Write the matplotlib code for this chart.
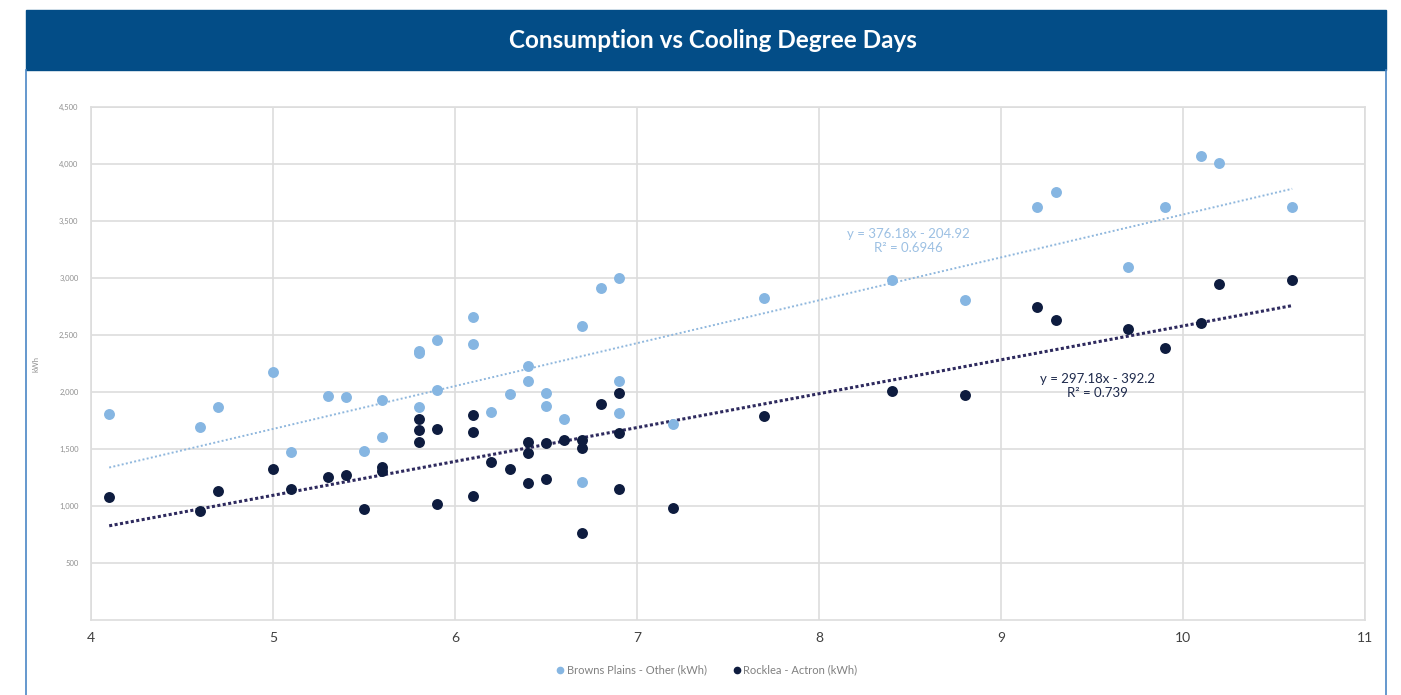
import matplotlib.pyplot as plt
from matplotlib.lines import Line2D
from matplotlib.patches import Rectangle
from matplotlib.ticker import FuncFormatter

# data
browns_x = [4.1, 4.6, 4.7, 5.0, 5.1, 5.3, 5.4, 5.5, 5.6, 5.6, 5.8, 5.8, 5.8, 5.9, 5.9,
            6.1, 6.1, 6.2, 6.3, 6.4, 6.4, 6.5, 6.5, 6.6, 6.7, 6.7, 6.8, 6.9, 6.9, 6.9,
            7.2, 7.7, 8.4, 8.8, 9.2, 9.3, 9.7, 9.9, 10.1, 10.2, 10.6]
browns_y = [1810, 1690, 1865, 2175, 1470, 1968, 1953, 1485, 1930, 1603, 2362, 2340, 1866, 2452, 2020,
            2657, 2422, 1828, 1982, 2230, 2096, 1994, 1880, 1760, 2575, 1208, 2908, 3000, 2096, 1813,
            1723, 2827, 2981, 2807, 3620, 3754, 3096, 3624, 4066, 4008, 3621]

rocklea_x = [4.1, 4.6, 4.7, 5.0, 5.1, 5.3, 5.4, 5.5, 5.6, 5.6, 5.8, 5.8, 5.8, 5.9, 5.9,
             6.1, 6.1, 6.1, 6.2, 6.3, 6.4, 6.4, 6.4, 6.5, 6.5, 6.6, 6.7, 6.7, 6.7, 6.8,
             6.9, 6.9, 6.9, 7.2, 7.7, 8.4, 8.8, 9.2, 9.3, 9.7, 9.9, 10.1, 10.2, 10.6]
rocklea_y = [1076, 959, 1134, 1325, 1146, 1254, 1275, 976, 1345, 1310, 1760, 1667, 1559, 1675, 1015,
             1798, 1649, 1090, 1386, 1327, 1564, 1468, 1199, 1553, 1234, 1579, 1579, 1512, 766, 1892,
             1994, 1643, 1152, 982, 1789, 2009, 1974, 2745, 2632, 2550, 2386, 2603, 2947, 2982]

# trendline coefficients (slope, intercept) as printed on the chart
browns_fit = (376.18, -204.92)
rocklea_fit = (297.18, -392.2)
browns_label = 'y = 376.18x - 204.92\nR² = 0.6946'
rocklea_label = 'y = 297.18x - 392.2\nR² = 0.739'

x_ticks = [4, 5, 6, 7, 8, 9, 10, 11]
y_ticks = [500, 1000, 1500, 2000, 2500, 3000, 3500, 4000, 4500]

light = '#86B6E2'
dark = '#0E1C3F'
fonts = ['Lato', 'DejaVu Sans']
plt.rcParams['font.family'] = fonts

fig = plt.figure(figsize=(14.01, 6.95), dpi=100)

# header bar
fig.patches.append(Rectangle((26 / 1401, 1 - 70 / 695), 1360 / 1401, 60 / 695,
                             transform=fig.transFigure, color='#034D87', zorder=0))
fig.text(0.509, 1 - 40 / 695, 'Consumption vs Cooling Degree Days', color='white',
         fontsize=17.5, fontweight='bold', ha='center', va='center')
# panel side borders
for xp in (26 / 1401, 1386 / 1401):
    fig.add_artist(Line2D([xp, xp], [0, 1 - 70 / 695], transform=fig.transFigure,
                          color='#4A86C5', lw=1.2))

ax = fig.add_axes([91 / 1401, 75 / 695, 1274 / 1401, 513 / 695])
ax.set_xlim(4, 11)
ax.set_ylim(0, 4500)
ax.set_xticks(x_ticks)
ax.set_yticks(y_ticks)
ax.yaxis.set_major_formatter(FuncFormatter(lambda v, p: f'{int(v):,}'))
ax.grid(True, color='#DDDDDD', lw=1.2)
ax.set_axisbelow(True)
for s in ax.spines.values():
    s.set_color('#DDDDDD')
    s.set_linewidth(1.2)
ax.tick_params(axis='y', length=0, pad=9, labelsize=5.5, labelcolor='#909090')
ax.tick_params(axis='x', length=0, pad=9, labelsize=10, labelcolor='#404040')
ax.set_ylabel('kWh', fontsize=5.5, color='#909090', labelpad=14)

ax.scatter(browns_x, browns_y, s=62, color=light, zorder=3, linewidths=0)
ax.scatter(rocklea_x, rocklea_y, s=62, color=dark, zorder=3, linewidths=0)

# trendlines over the data range
bx = [min(browns_x), max(browns_x)]
ax.plot(bx, [browns_fit[0] * v + browns_fit[1] for v in bx], ls=(0, (1, 1.2)),
        color='#8FB7DD', lw=1.4, zorder=2)
rx = [min(rocklea_x), max(rocklea_x)]
ax.plot(rx, [rocklea_fit[0] * v + rocklea_fit[1] for v in rx], ls=(0, (1, 0.8)),
        color='#2E2A5E', lw=2.2, zorder=2)

ax.text(8.49, 3325, browns_label, color='#9CC0E3', fontsize=9.5, ha='center', va='center',
        linespacing=1.15)
ax.text(9.53, 2053, rocklea_label, color='#1E2A4C', fontsize=9.5, ha='center', va='center',
        linespacing=1.15)

handles = [Line2D([], [], ls='', marker='o', color=light, markersize=4.5),
           Line2D([], [], ls='', marker='o', color=dark, markersize=4.5)]
fig.legend(handles, ['Browns Plains - Other (kWh)', 'Rocklea - Actron (kWh)'],
           loc='center', bbox_to_anchor=(0.504, 1 - 670 / 695), ncol=2, frameon=False,
           fontsize=8, labelcolor='#808080', handletextpad=0.1, columnspacing=2.2,
           handlelength=1)

fig.savefig('out.png', dpi=100)
